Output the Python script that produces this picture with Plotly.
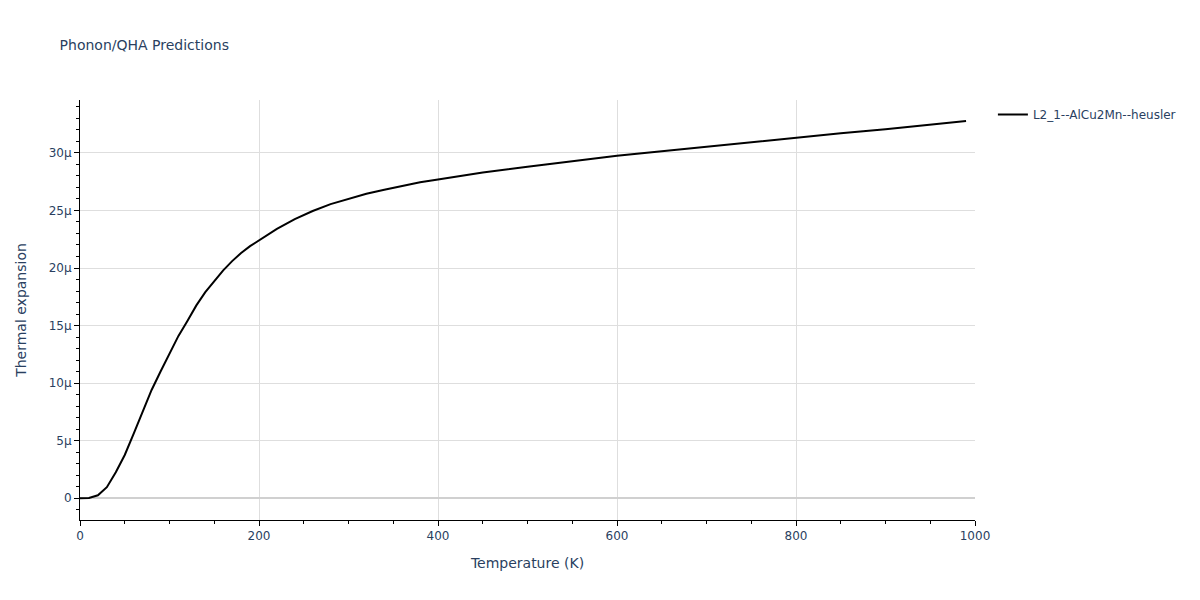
import plotly.graph_objects as go

# temperature grid (K) and thermal expansion (1/K)
temperature = [0, 10, 20, 30, 40, 50, 60, 70, 80, 90, 100, 110, 120, 130, 140,
               150, 160, 170, 180, 190, 200, 220, 240, 260, 280, 300, 320, 340,
               360, 380, 400, 450, 500, 550, 600, 650, 700, 750, 800, 850, 900,
               950, 990]
expansion_micro = [0.0, 0.02, 0.25, 0.95, 2.25, 3.75, 5.6, 7.45, 9.4, 11.0, 12.5,
                   14.1, 15.4, 16.75, 17.9, 18.9, 19.8, 20.6, 21.3, 21.9, 22.4,
                   23.4, 24.25, 24.95, 25.55, 26.0, 26.45, 26.8, 27.15, 27.45,
                   27.7, 28.3, 28.8, 29.3, 29.75, 30.15, 30.55, 30.95, 31.3,
                   31.7, 32.05, 32.45, 32.77]
expansion = [v * 1e-6 for v in expansion_micro]
label = "L2_1--AlCu2Mn--heusler"

fig = go.Figure()
fig.add_trace(go.Scatter(x=temperature, y=expansion, mode="lines", name=label,
                         line=dict(color="black", width=2), showlegend=True))

axis_style = dict(showline=True, linecolor="black", linewidth=1, ticks="outside",
                  ticklen=5, tickcolor="black", showgrid=True, gridcolor="#dedede",
                  zeroline=True, zerolinecolor="#d0d0d0", zerolinewidth=2,
                  automargin=False,
                  minor=dict(ticks="outside", ticklen=3, tickcolor="black", showgrid=False))

# the page adds an 8px body margin, so the margins are trimmed to land the plot area
fig.update_layout(
    title=dict(text="Phonon/QHA Predictions", font=dict(size=14),
               x=0.043, xanchor="left", y=0.938, yanchor="middle"),
    font=dict(family="Verdana, DejaVu Sans, sans-serif", size=12, color="#2a3f5f"),
    width=1200, height=600,
    margin=dict(l=72, r=233, t=92, b=88),
    plot_bgcolor="white", paper_bgcolor="white",
    legend=dict(x=1.02, y=1, font=dict(size=12)),
    xaxis=dict(title=dict(text="Temperature (K)", font=dict(size=14)),
               range=[0, 1000], dtick=200, **axis_style),
    yaxis=dict(title=dict(text="Thermal expansion", font=dict(size=14), standoff=18),
               range=[-1.9e-6, 34.6e-6], dtick=5e-6, tickformat="~s", **axis_style),
)
fig.update_xaxes(minor_dtick=50)
fig.update_yaxes(minor_dtick=1e-6)

fig.write_html("out.html")
